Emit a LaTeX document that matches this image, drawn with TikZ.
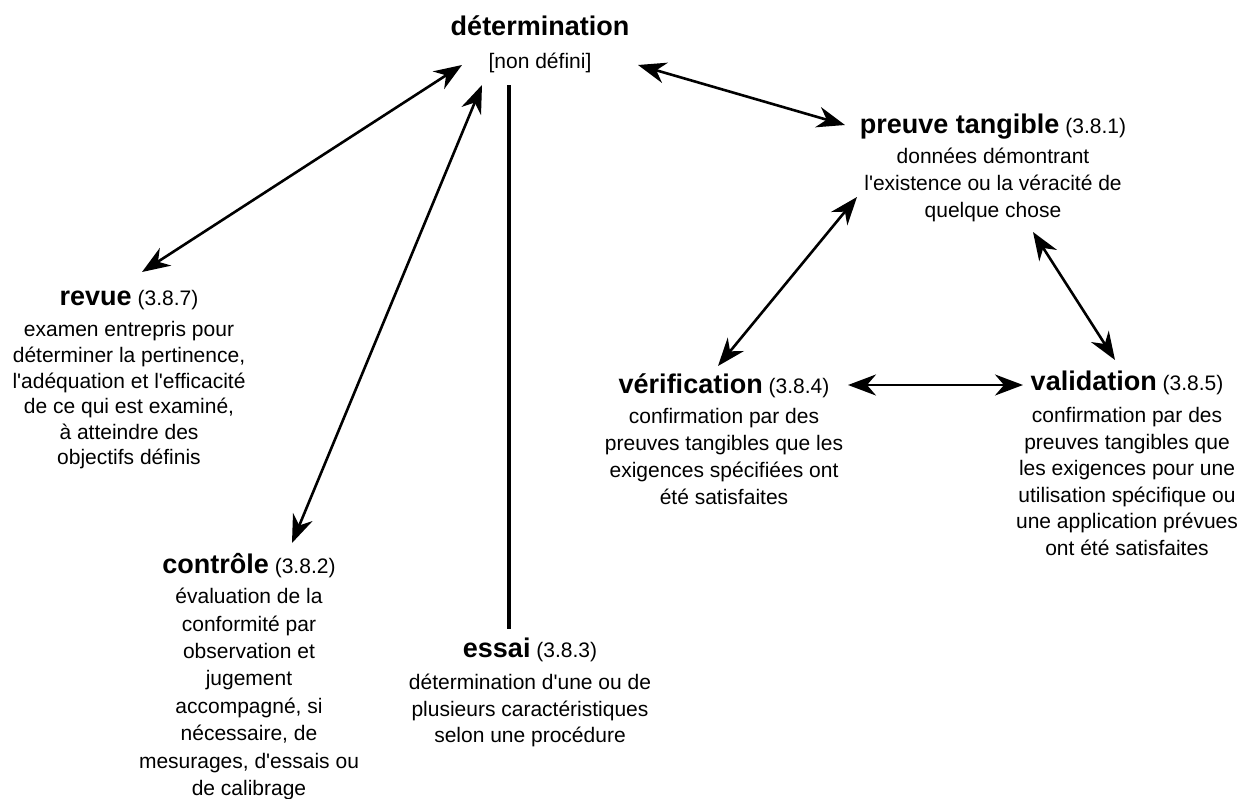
\documentclass[tikz,border=0pt]{standalone}
\usepackage{fontspec}
\setmainfont{Liberation Sans}[Ligatures=TeXOff]
\usetikzlibrary{arrows.meta}
\newcommand\ttl[1]{\rule{0pt}{27pt}{\fontsize{27}{27}\selectfont\bfseries #1}}
\tikzset{
  blk/.style={align=center, inner sep=0pt, anchor=north},
  sk/.style={font=\fontsize{21}{#1}\selectfont},
  dbl/.style={line width=2.6pt, {Stealth[length=28pt,width=21pt,inset=9pt]}-{Stealth[length=28pt,width=21pt,inset=9pt]}},
  bar/.style={line width=4pt}
}
\begin{document}
\begin{tikzpicture}[x=1pt,y=-1pt]
\useasboundingbox (0,0) rectangle (1255,798);
\fill[white] (0,0) rectangle (1255,798);

\node[blk,sk=27pt] (det) at (540,8) {\ttl{détermination}\\[6pt]{[non défini]}};
\node[blk,sk=27pt] (preuve) at (993,106) {\ttl{preuve tangible} (3.8.1)\\[3pt]
  données démontrant\\ l'existence ou la véracité de\\ quelque chose};
\node[blk,sk=25.6pt] (revue) at (129,278) {\ttl{revue} (3.8.7)\\[6pt]
  examen entrepris pour\\ déterminer la pertinence,\\ l'adéquation et l'efficacité\\
  de ce qui est examiné,\\ à atteindre des\\ objectifs définis};
\node[blk,sk=27.4pt] (controle) at (249,546) {\ttl{contrôle} (3.8.2)\\[3pt]
  évaluation de la\\ conformité par\\ observation et\\ jugement\\ accompagné, si\\
  nécessaire, de\\ mesurages, d'essais ou\\ de calibrage};
\node[blk,sk=27pt] (verif) at (724,366) {\ttl{vérification} (3.8.4)\\[3pt]
  confirmation par des\\ preuves tangibles que les\\ exigences spécifiées ont\\ été satisfaites};
\node[blk,sk=26.5pt] (valid) at (1127,363) {\ttl{validation} (3.8.5)\\[6pt]
  confirmation par des\\ preuves tangibles que\\ les exigences pour une\\
  utilisation spécifique ou\\ une application prévues\\ ont été satisfaites};
\node[blk,sk=26.5pt] (essai) at (530,630) {\ttl{essai} (3.8.3)\\[6pt]
  détermination d'une ou de\\ plusieurs caractéristiques\\ selon une procédure};

\coordinate (d1) at (462,65);   \coordinate (r1) at (142,272);
\coordinate (d2) at (482,85);   \coordinate (c1) at (292,543);
\coordinate (d3) at (638,65);   \coordinate (p1) at (845,125);
\coordinate (p2) at (857,197);  \coordinate (v1) at (718,366);
\coordinate (p3) at (1033,232); \coordinate (w1) at (1115,360);
\coordinate (v2) at (848,385);  \coordinate (w2) at (1023,385);
\coordinate (d4) at (509,85);   \coordinate (e1) at (509,629);

\draw[dbl] (d1) -- (r1);
\draw[dbl] (d2) -- (c1);
\draw[dbl] (d3) -- (p1);
\draw[dbl] (p2) -- (v1);
\draw[dbl] (p3) -- (w1);
\draw[dbl] (v2) -- (w2);
\draw[bar] (d4) -- (e1);
\end{tikzpicture}
\end{document}
